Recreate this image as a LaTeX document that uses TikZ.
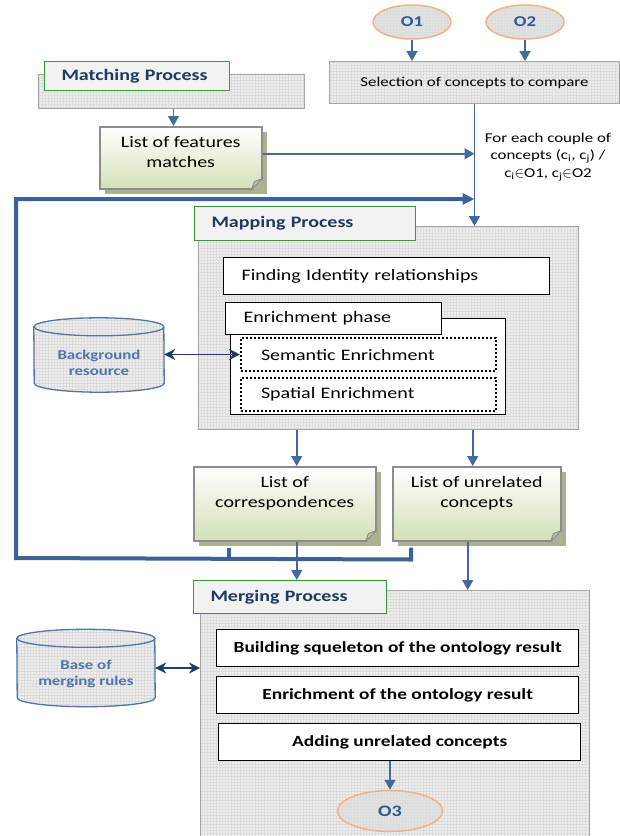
\documentclass[tikz,border=0pt]{standalone}
\usepackage{fontspec}
\setmainfont{Carlito}[FakeStretch=1.25]
\usetikzlibrary{shapes.geometric,arrows.meta,patterns,shadows}

\definecolor{arrowblue}{HTML}{44699E}
\definecolor{fbblue}{HTML}{3B6399}
\definecolor{navy}{HTML}{1F3A60}
\definecolor{dblnavy}{HTML}{1F3F6B}
\definecolor{ellfill}{HTML}{E2E2E2}
\definecolor{ellorange}{HTML}{F4B183}
\definecolor{ellblue}{HTML}{2E5A8E}
\definecolor{cylblue}{HTML}{4F75AA}
\definecolor{gridbg}{HTML}{EEEEEE}
\definecolor{gridline}{HTML}{DCDCDC}
\definecolor{boxgray}{HTML}{A6A6A6}
\definecolor{lblgreen}{HTML}{3A9A3A}
\definecolor{lblfill}{HTML}{F2F2F2}
\definecolor{listgreen}{HTML}{D3E0B6}
\definecolor{listshadow}{HTML}{A9B391}
\definecolor{listborder}{HTML}{8C8C8C}
\definecolor{listfold}{HTML}{BCC7A2}

\tikzset{
  gridbox/.style={draw=boxgray, line width=1pt, preaction={fill=gridbg},
    pattern=grid, pattern color=gridline, anchor=north west, inner sep=0pt},
  lbl/.style={draw=lblgreen, line width=1pt, fill=lblfill, anchor=north west,
    font=\bfseries\fontsize{16}{19}\selectfont, text=navy, inner xsep=17pt, align=left},
  ellip/.style={ellipse, draw=ellorange, line width=1.5pt, preaction={fill=ellfill},
    pattern=grid, pattern color=gridline, inner sep=0pt,
    font=\bfseries\fontsize{15}{18}\selectfont, text=ellblue},
  listbox/.style={draw=listborder, line width=1.5pt, top color=white, bottom color=listgreen,
    drop shadow={shadow xshift=5pt, shadow yshift=-5pt, fill=listshadow, opacity=1},
    anchor=north west, align=center, font=\fontsize{16}{20}\selectfont},
  whitebox/.style={draw=black, line width=1.3pt, fill=white, anchor=north west,
    inner xsep=18pt, align=left, font=\fontsize{16}{19}\selectfont},
  dotbox/.style={draw=black, line width=2pt, dash pattern=on 2pt off 2pt, fill=white,
    anchor=north west, inner xsep=20pt, align=left, font=\fontsize{16}{19}\selectfont},
  stepbox/.style={draw=black, line width=1.3pt, fill=white, anchor=north west,
    minimum width=362pt, minimum height=37pt, font=\bfseries\fontsize{15.5}{18}\selectfont},
  cylfill/.style={preaction={fill=gridbg}, pattern=grid, pattern color=gridline},
  cylline/.style={draw=cylblue, line width=1.3pt},
  cyltext/.style={align=center, text=cylblue, font=\bfseries\fontsize{13.5}{16.5}\selectfont},
  arr/.style={draw=arrowblue, line width=1.5pt, -{Triangle[width=11pt,length=10pt]}},
  dbl/.style={draw=dblnavy, line width=1.5pt, {Stealth[width=11pt,length=11pt]}-{Stealth[width=11pt,length=11pt]}},
  fb/.style={draw=fbblue, line width=4pt}
}

\begin{document}
\begin{tikzpicture}[x=1pt,y=-1pt]
\useasboundingbox[fill=white] (0,0) rectangle (620,836);

% top: ontologies and selection
\node[ellip, minimum width=78pt, minimum height=34pt] (o1) at (412,22) {O1};
\node[ellip, minimum width=78pt, minimum height=34pt] (o2) at (525,22) {O2};
\node[gridbox, minimum width=290pt, minimum height=42pt,
  font=\fontsize{13.5}{16}\selectfont] (sel) at (329,61) {Selection of concepts to compare};

% matching process
\node[gridbox, minimum width=266pt, minimum height=34pt] (matchbox) at (38,74) {};
\node[lbl, minimum width=185pt, minimum height=29pt, text width=151pt] (matchlbl) at (44,61) {Matching Process};
\node[listbox, minimum width=162pt, minimum height=62pt, text depth=11pt] (feat) at (99,126) {List of features\\matches};

\node[align=center, font=\fontsize{13.5}{17.5}\selectfont] (couple) at (548,157)
  {For each couple of\\concepts (c\textsubscript{i}, c\textsubscript{j}) /\\c\textsubscript{i}$\in$O1, c\textsubscript{j}$\in$O2};

% mapping process
\node[gridbox, minimum width=380pt, minimum height=203pt] (mapbox) at (198,226) {};
\node[lbl, minimum width=221pt, minimum height=34pt, text width=187pt] (maplbl) at (194,206) {Mapping Process};
\node[whitebox, minimum width=326pt, minimum height=37pt, text width=290pt] (ident) at (223,257) {Finding Identity relationships};
\node[draw=black, line width=1.3pt, fill=white, anchor=north west, inner sep=0pt,
  minimum width=275pt, minimum height=96pt] (enrout) at (230,318) {};
\node[whitebox, minimum width=216pt, minimum height=32pt, text width=180pt] (enrlbl) at (225,302) {Enrichment phase};
\node[dotbox, minimum width=255pt, minimum height=33pt, text width=215pt] (sem) at (240,337) {Semantic Enrichment};
\node[dotbox, minimum width=255pt, minimum height=33pt, text width=215pt] (spa) at (240,377) {Spatial Enrichment};

% lists
\node[listbox, minimum width=182pt, minimum height=74pt, text depth=23pt] (corr) at (193,466) {List of\\correspondences};
\node[listbox, minimum width=168pt, minimum height=74pt, text depth=23pt] (unrel) at (392,466) {List of unrelated\\concepts};
\foreach \n in {feat,corr,unrel} {
  \fill[listshadow] ([xshift=-11pt]\n.south east) -- ([yshift=11pt]\n.south east)
    -- ([xshift=1pt,yshift=-1pt]\n.south east) -- cycle;
  \draw[listborder, line width=1pt, fill=listfold] ([xshift=-11pt]\n.south east)
    -- ([yshift=11pt]\n.south east) -- ([xshift=-8pt,yshift=8pt]\n.south east) -- cycle;
}

% merging process
\node[gridbox, minimum width=389pt, minimum height=260pt] (mergebox) at (200,590) {};
\node[lbl, minimum width=193pt, minimum height=33pt, text width=159pt] (mergelbl) at (193,580) {Merging Process};
\node[stepbox] (build) at (216,629) {Building squeleton of the ontology result};
\node[stepbox] (enrich) at (216,676) {Enrichment of the ontology result};
\node[stepbox] (adding) at (218,723) {Adding unrelated concepts};
\node[ellip, minimum width=105pt, minimum height=41pt, font=\bfseries\fontsize{16}{19}\selectfont] (o3) at (390,811) {O3};

% resources
\node[minimum width=130pt, minimum height=74pt, inner sep=0pt] (bgres) at (99,355) {};
\node[minimum width=138pt, minimum height=77pt, inner sep=0pt] (rules) at (86,668) {};
\foreach \c/\r in {bgres/65,rules/69} {
  \path[cylfill] ([yshift=-9pt]\c.north west) arc[start angle=180, end angle=0, x radius=\r pt, y radius=9pt]
    -- ([yshift=9pt]\c.south east) arc[start angle=0, end angle=-180, x radius=\r pt, y radius=9pt] -- cycle;
  \draw[cylline] ([yshift=-9pt]\c.north west) arc[start angle=180, end angle=0, x radius=\r pt, y radius=9pt]
    -- ([yshift=9pt]\c.south east) arc[start angle=0, end angle=-180, x radius=\r pt, y radius=9pt] -- cycle;
  \draw[cylline] ([yshift=-9pt]\c.north east) arc[start angle=0, end angle=-180, x radius=\r pt, y radius=9pt];
}
\node[cyltext] (bgrestxt) at ([yshift=-8pt]bgres) {Background\\resource};
\node[cyltext] (rulestxt) at ([yshift=-6pt]rules) {Base of\\merging rules};

% connectors
\draw[arr] (o1.south) -- (o1.south |- sel.north);
\draw[arr] (o2.south) -- (o2.south |- sel.north);
\draw[arr] ([xshift=2pt]matchbox.south) -- ([xshift=2pt]matchbox.south |- feat.north);
\draw[arr] ([yshift=4pt]feat.east) -- ([yshift=4pt]feat.east -| sel.south);
\draw[arr] (sel.south) -- (sel.south |- mapbox.north);
\draw[arr] ([xshift=12pt]corr.north |- mapbox.south) -- ([xshift=12pt]corr.north);
\draw[arr] ([xshift=-4pt]unrel.north |- mapbox.south) -- ([xshift=-4pt]unrel.north);
\draw[arr] ([xshift=12pt]corr.south) -- ([xshift=12pt]corr.south |- mergelbl.north);
\draw[arr] ([xshift=-9pt]unrel.south) -- ([xshift=-9pt]unrel.south |- mergebox.north);
\draw[arr] (o3.north |- adding.south) -- (o3.north);
\draw[dbl] (sem.west -| bgres.east) -- (sem.west);
\draw[dbl] (rules.east) -- (rules.east -| mergebox.west);

% feedback loop
\coordinate (fbl) at (16,558);
\coordinate (fbt) at (16,199);
\draw[fb] ([xshift=36pt,yshift=-6pt]corr.south west) -- ++(0,12);
\draw[fb, -{Triangle[width=11pt,length=12pt]}] ([xshift=19pt,yshift=-6pt]unrel.south west) -- ++(0,12)
  -- (fbl) -- (fbt) -- (fbt -| sel.south);
\end{tikzpicture}
\end{document}
